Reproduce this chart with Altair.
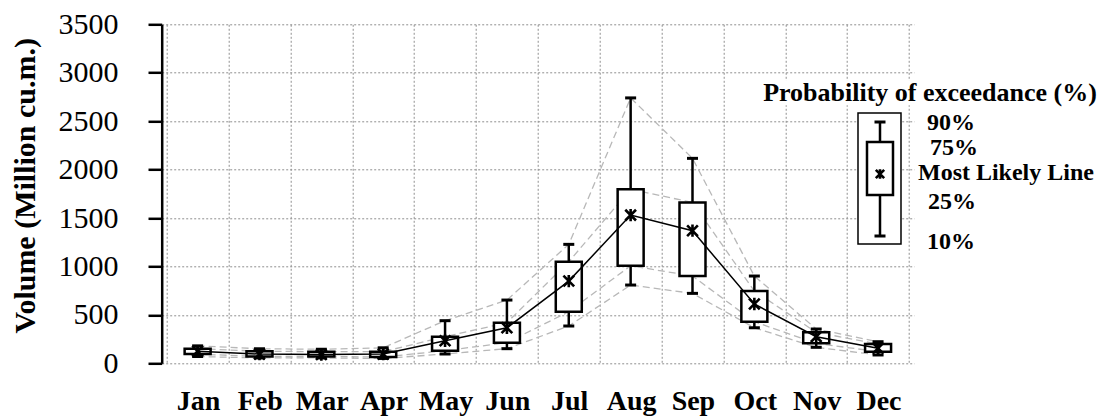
import json
import altair as alt
import pandas as pd

# ---------------- data ----------------
months = ["Jan", "Feb", "Mar", "Apr", "May", "Jun", "Jul", "Aug", "Sep", "Oct", "Nov", "Dec"]
p10 = [70, 55, 55, 50, 96, 151, 385, 808, 722, 367, 165, 86]
p25 = [95, 70, 70, 65, 130, 213, 533, 1007, 901, 429, 206, 120]
median = [125, 95, 90, 95, 233, 367, 849, 1530, 1369, 612, 275, 155]
p75 = [150, 125, 120, 120, 275, 419, 1049, 1796, 1661, 746, 320, 199]
p90 = [180, 150, 145, 160, 440, 653, 1228, 2740, 2116, 901, 354, 223]

y_ticks = [0, 500, 1000, 1500, 2000, 2500, 3000, 3500]
y_title = "Volume (Million cu.m.)"
legend_title = "Probability of exceedance (%)"
legend_labels = ["90%", "75%", "Most Likely Line", "25%", "10%"]

# ---------------- tables ----------------
df = pd.DataFrame({
    "month": months,
    "pos": [i + 0.5 for i in range(len(months))],
    "p10": p10, "p25": p25, "med": median, "p75": p75, "p90": p90,
})
long_df = df.melt(id_vars=["month", "pos"], value_vars=["p10", "p25", "p75", "p90"],
                  var_name="q", value_name="v")
caps_df = df.melt(id_vars=["pos"], value_vars=["p10", "p90"], var_name="q", value_name="v")
one = pd.DataFrame({"a": [0]})

# ---------------- layout / style ----------------
W, H = 752.3, 339
FONT = "Liberation Serif"
GRID = "#8f8f8f"
label_expr = "datum.value < 12 ? " + json.dumps(months) + "[datum.value] : ''"

xaxis = alt.Axis(values=list(range(13)), labelExpr=label_expr, labelOffset=W / 24,
                 ticks=False, domain=False, grid=True, gridColor=GRID, gridDash=[2, 2],
                 gridWidth=1, labelFont=FONT, labelFontSize=28, labelFontWeight="bold",
                 labelColor="black", labelPadding=24, labelFlush=False, labelOverlap=False,
                 title=None)
yaxis = alt.Axis(values=y_ticks, format="d", grid=True, gridColor=GRID, gridDash=[2, 2],
                 gridWidth=1, domainColor="black", domainWidth=2.5, tickColor="black",
                 tickWidth=2.5, tickSize=13.7, labelFont=FONT, labelFontSize=30,
                 labelColor="black", labelPadding=30, title=y_title, titleFont=FONT,
                 titleFontSize=30, titleFontWeight="bold", titleColor="black",
                 titleAngle=270, titleX=-136, titleY=161, titleAlign="center",
                 titleBaseline="middle")
xs = alt.Scale(domain=[0, 12], nice=False, zero=False)
ys = alt.Scale(domain=[0, 3500], nice=False)


def X(field):
    return alt.X(field, type="quantitative", scale=xs, axis=xaxis)


def Y(field):
    return alt.Y(field, type="quantitative", scale=ys, axis=yaxis)


star = "M-1,-1L1,1M-1,1L1,-1M0,-1.15L0,1.15"

dashed = alt.Chart(long_df).mark_line(color="#b8b8b8", strokeDash=[7, 4], strokeWidth=1.3).encode(
    x=X("pos"), y=Y("v"), detail="q:N")
whisk = alt.Chart(df).mark_rule(color="black", strokeWidth=2.5).encode(
    x=X("pos"), y=Y("p10"), y2="p90")
boxes = alt.Chart(df).mark_bar(size=26, fill="white", stroke="black", strokeWidth=2.5).encode(
    x=X("pos"), y=Y("p25"), y2="p75")
caps = alt.Chart(caps_df).mark_tick(orient="horizontal", size=11, thickness=3, color="black",
                                    opacity=1).encode(x=X("pos"), y=Y("v"))
medline = alt.Chart(df).mark_line(color="black", strokeWidth=1.5).encode(x=X("pos"), y=Y("med"))
marks = alt.Chart(df).mark_point(shape=star, size=115, filled=False, stroke="black",
                                 strokeWidth=2.6, opacity=1).encode(x=X("pos"), y=Y("med"))

# ---------------- legend (pixel-placed) ----------------
lg = []
lg.append(alt.Chart(one).mark_rect(fill="white").encode(
    x=alt.value(600), x2=alt.value(936), y=alt.value(56), y2=alt.value(81)))
lg.append(alt.Chart(one).mark_text(font=FONT, fontSize=26, fontWeight="bold", color="black",
                                   align="center", baseline="middle").encode(
    x=alt.value(768.3), y=alt.value(68.7), text=alt.value(legend_title)))
lg.append(alt.Chart(one).mark_rect(fill="white", stroke="black", strokeWidth=1.5).encode(
    x=alt.value(696.3), x2=alt.value(739.3), y=alt.value(88.7), y2=alt.value(219.7)))
lg.append(alt.Chart(one).mark_rule(color="black", strokeWidth=2.5).encode(
    x=alt.value(718.3), y=alt.value(97.7), y2=alt.value(211.7)))
for cy in (97.7, 211.7):
    lg.append(alt.Chart(one).mark_rule(color="black", strokeWidth=3).encode(
        x=alt.value(712.8), x2=alt.value(723.8), y=alt.value(cy)))
lg.append(alt.Chart(one).mark_rect(fill="white", stroke="black", strokeWidth=2.5).encode(
    x=alt.value(705.3), x2=alt.value(731.3), y=alt.value(117.7), y2=alt.value(170.7)))
lg.append(alt.Chart(one).mark_point(shape=star, size=70, filled=False, stroke="black",
                                    strokeWidth=2.6, opacity=1).encode(
    x=alt.value(718.3), y=alt.value(149.7)))
label_xy = [(765.3, 98.7), (768.3, 123.7), (756.3, 148.7), (766.3, 177.7), (765.3, 217.7)]
for txt, (lx, ly) in zip(legend_labels, label_xy):
    lg.append(alt.Chart(one).mark_text(font=FONT, fontSize=24, fontWeight="bold", color="black",
                                       align="left", baseline="middle").encode(
        x=alt.value(lx), y=alt.value(ly), text=alt.value(txt)))

chart = alt.layer(dashed, whisk, boxes, caps, medline, marks, *lg).properties(
    width=W, height=H,
    autosize=alt.AutoSizeParams(type="none"),
    padding={"left": 153.7, "top": 16.3, "right": 186, "bottom": 54},
    background="white",
).configure_view(stroke="transparent")

chart.save("out.html", embed_options={"renderer": "svg", "actions": False})
